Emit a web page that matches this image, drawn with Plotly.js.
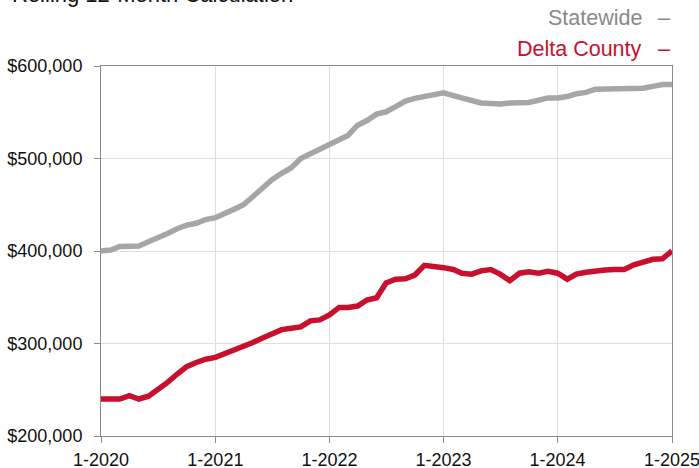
<!DOCTYPE html>
<html>
<head>
<meta charset="utf-8">
<script src="https://cdn.plot.ly/plotly-3.0.1.min.js"></script>
<style>html,body{margin:0;padding:0;background:#fff;}#chart{width:699px;height:468px;}</style>
</head>
<body>
<div id="chart"></div>
<script>
// Monthly periods, 1-2020 through 1-2025
var months = [];
for (var y = 2020; y <= 2025; y++) {
  for (var m = 1; m <= 12; m++) {
    if (y === 2025 && m > 1) break;
    months.push(y + '-' + (m < 10 ? '0' + m : m) + '-01');
  }
}
var statewide = [400000,401000,405000,405000,405500,410000,414000,419000,424000,428000,430000,434000,
  436000,440000,445000,450000,459000,469000,477000,484000,490000,500000,505000,510000,
  515000,520000,525000,536000,541000,548000,550500,556000,562000,565000,567000,569000,
  571000,568000,565000,562000,560000,559500,559000,560000,560000,560500,563000,565500,
  565500,567000,570000,571500,575000,575000,575000,575000,575000,576000,578000,580000,
  580000];
var delta = [240000,240000,240000,243500,240000,243000,250000,258000,267000,275000,279500,283000,
  285000,289000,292000,296000,301000,306000,310500,315000,316500,318000,324500,325500,
  331000,339000,339000,340500,347000,349500,365500,369500,370000,374000,384500,384000,
  382000,380000,376000,375000,378500,380000,375000,368000,376000,377500,376000,378000,
  376000,369500,375000,377000,378500,379500,380000,380000,385000,388500,391000,391500,
  400000];
var tickDates = ['2020-01-01','2021-01-01','2022-01-01','2023-01-01','2024-01-01','2025-01-01'];
var tickLabels = ['1-2020','1-2021','1-2022','1-2023','1-2024','1-2025'];
var seriesNames = ['Statewide', 'Delta County'];
var seriesColors = ['#a6a6a6', '#c8102e'];
var titleText = 'Rolling 12-Month Calculation';

var font = 'Helvetica, Arial, "Liberation Sans", sans-serif';
var traces = [statewide, delta].map(function (vals, i) {
  return {
    x: months, y: vals, type: 'scatter', mode: 'lines', name: seriesNames[i],
    line: {color: seriesColors[i], width: 5.5}, showlegend: false, hoverinfo: 'skip'
  };
});

var layout = {
  width: 699, height: 468,
  margin: {l: 101, r: 27, t: 66, b: 32},
  paper_bgcolor: '#fff', plot_bgcolor: '#fff',
  font: {family: font, color: '#111', size: 18},
  xaxis: {
    type: 'date', range: ['2020-01-01', '2025-01-01'],
    tickmode: 'array', tickvals: tickDates, ticktext: tickLabels,
    showgrid: true, gridcolor: '#dedede', gridwidth: 1,
    showline: true, linecolor: '#8a8a8a', linewidth: 1, mirror: true,
    ticks: 'outside', ticklen: 6, tickcolor: '#8a8a8a',
    tickfont: {family: font, size: 18, color: '#111'},
    zeroline: false, ticklabelstandoff: 1, ticklabeloverflow: 'allow'
  },
  yaxis: {
    range: [200000, 600000], dtick: 100000, tickformat: '$,.0f',
    showgrid: true, gridcolor: '#dedede', gridwidth: 1,
    showline: true, linecolor: '#8a8a8a', linewidth: 1, mirror: true,
    ticks: 'outside', ticklen: 6, tickcolor: '#8a8a8a',
    tickfont: {family: font, size: 18, color: '#111'},
    zeroline: false, ticklabelstandoff: 8
  },
  annotations: [
    {xref: 'paper', yref: 'paper', x: -0.16, y: 1.192, xanchor: 'left', yanchor: 'middle',
     text: titleText, showarrow: false, font: {family: font, size: 22, color: '#111'}},
    {xref: 'paper', yref: 'paper', x: 0.951, y: 1.13, xanchor: 'right', yanchor: 'middle',
     text: seriesNames[0], showarrow: false, font: {family: font, size: 21.5, color: '#8a8a8a'}},
    {xref: 'paper', yref: 'paper', x: 1.0, y: 1.13, xanchor: 'right', yanchor: 'middle',
     text: '–', showarrow: false, font: {family: font, size: 21.5, color: '#8a8a8a'}},
    {xref: 'paper', yref: 'paper', x: 0.951, y: 1.046, xanchor: 'right', yanchor: 'middle',
     text: seriesNames[1], showarrow: false, font: {family: font, size: 21.5, color: '#c8102e'}},
    {xref: 'paper', yref: 'paper', x: 1.0, y: 1.046, xanchor: 'right', yanchor: 'middle',
     text: '–', showarrow: false, font: {family: font, size: 21.5, color: '#c8102e'}}
  ]
};
Plotly.newPlot('chart', traces, layout, {staticPlot: true, displayModeBar: false});
</script>
</body>
</html>
